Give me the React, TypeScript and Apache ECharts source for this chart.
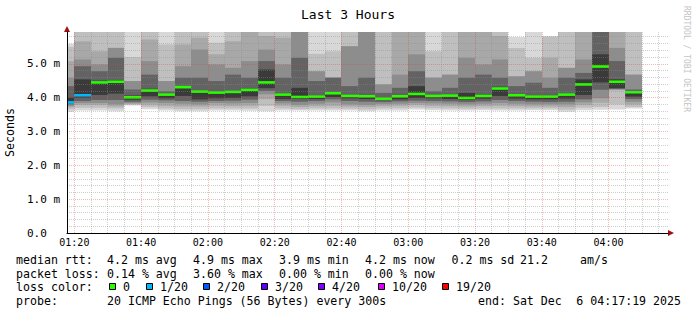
import { useEffect, useRef } from 'react';
import * as echarts from 'echarts';

// ---------- data ----------
const slotStarts = ['01:15','01:20','01:25','01:30','01:35','01:40','01:45','01:50','01:55',
  '02:00','02:05','02:10','02:15','02:20','02:25','02:30','02:35','02:40','02:45','02:50','02:55',
  '03:00','03:05','03:10','03:15','03:20','03:25','03:30','03:35','03:40','03:45','03:50','03:55',
  '04:00','04:05'];
const stepMin = 5;
const viewStartMin = 77.8; // 01:17:48
const viewEndMin = 257.8;  // 04:17:48

const median = [3.86, 4.07, 4.45, 4.47, 4.01, 4.21, 4.09, 4.31, 4.18, 4.15, 4.17, 4.23, 4.45, 4.09, 4.02, 4.03, 4.13, 4.05, 4.04, 3.97, 4.04, 4.11, 4.05, 4.06, 3.99, 4.05, 4.27, 4.07, 4.03, 4.03, 4.09, 4.39, 4.92, 4.47, 4.16];
const lossIdx = [1, 1, 0, 0, 0, 0, 0, 0, 0, 0, 0, 0, 0, 0, 0, 0, 0, 0, 0, 0, 0, 0, 0, 0, 0, 0, 0, 0, 0, 0, 0, 0, 0, 0, 0];

// smoke layers, outermost (1) to innermost (6): upper and lower edges in ms
const hi1 = [5.59, 6.3, 6.3, 6.3, 6.3, 6.3, 6.3, 6.3, 6.3, 6.3, 6.3, 6.3, 6.3, 6.3, 6.3, 6.3, 6.3, 6.3, 6.3, 6.3, 6.3, 6.3, 6.3, 6.3, 6.3, 6.3, 6.3, 5.79, 6.3, 5.82, 6.3, 6.3, 6.3, 6.3, 6.3];
const hi2 = [5.50, 6.1, 6.1, 6.1, 5.20, 6.1, 5.57, 6.1, 6.1, 5.62, 6.1, 6.2, 6.1, 6.1, 6.2, 5.30, 5.37, 6.1, 6.2, 6.1, 6.2, 6.2, 5.37, 6.1, 6.2, 6.2, 6.1, 5.47, 5.18, 5.80, 6.1, 6.2, 6.25, 6.2, 6.1];
const hi3 = [5.08, 5.67, 5.37, 5.47, 4.49, 5.72, 4.49, 5.57, 5.77, 5.28, 5.67, 6.1, 5.82, 5.77, 6.15, 4.78, 4.59, 5.52, 6.15, 4.39, 6.1, 6.1, 4.59, 4.68, 6.1, 6.1, 5.82, 4.63, 4.78, 5.18, 4.88, 6.1, 6.2, 6.1, 4.68];
const hi4 = [4.59, 5.13, 4.98, 5.47, 4.49, 5.08, 4.49, 4.93, 5.42, 4.98, 4.88, 5.08, 5.42, 4.98, 6.1, 4.78, 4.59, 5.52, 6.1, 4.39, 4.68, 5.28, 4.59, 4.68, 5.18, 4.98, 5.13, 4.63, 4.78, 4.59, 4.88, 5.13, 6.15, 5.47, 4.68];
const hi5 = [4.34, 4.93, 4.78, 5.18, 4.24, 4.68, 4.19, 4.59, 4.59, 4.49, 4.68, 4.59, 5.08, 4.59, 5.18, 4.49, 4.59, 4.34, 4.59, 4.14, 4.29, 4.78, 4.19, 4.29, 4.59, 4.68, 4.59, 4.34, 4.44, 4.29, 4.59, 4.73, 6.1, 5.08, 4.24];
const hi6 = [4.00, 4.54, 4.50, 4.52, 4.06, 4.26, 4.12, 4.34, 4.22, 4.18, 4.20, 4.27, 4.83, 4.12, 4.29, 4.06, 4.16, 4.08, 4.07, 4.00, 4.06, 4.34, 4.08, 4.09, 4.14, 4.09, 4.32, 4.10, 4.06, 4.06, 4.12, 4.54, 5.28, 4.54, 4.19];
const lo6 = [3.84, 4.00, 4.08, 4.12, 3.94, 4.04, 3.98, 4.05, 3.95, 3.98, 3.99, 4.04, 4.28, 3.96, 3.96, 3.96, 4.02, 3.98, 3.96, 3.93, 3.95, 3.99, 3.98, 3.96, 3.93, 3.97, 4.05, 3.97, 3.95, 3.95, 3.97, 4.08, 4.45, 4.28, 4.03];
const lo5 = [3.80, 3.90, 3.93, 3.93, 3.88, 3.94, 3.92, 3.90, 3.88, 3.90, 3.91, 3.94, 4.20, 3.90, 3.88, 3.90, 3.95, 3.90, 3.88, 3.87, 3.89, 3.91, 3.90, 3.89, 3.87, 3.89, 3.93, 3.90, 3.88, 3.87, 3.88, 3.95, 4.23, 4.26, 3.96];
const lo4 = [3.76, 3.84, 3.84, 3.80, 3.84, 3.86, 3.84, 3.82, 3.80, 3.84, 3.83, 3.84, 4.10, 3.83, 3.78, 3.82, 3.86, 3.80, 3.78, 3.81, 3.82, 3.84, 3.83, 3.82, 3.80, 3.82, 3.84, 3.82, 3.80, 3.80, 3.80, 3.86, 3.98, 4.24, 3.88];
const lo3 = [3.72, 3.78, 3.78, 3.74, 3.81, 3.79, 3.76, 3.74, 3.74, 3.76, 3.75, 3.76, 3.95, 3.76, 3.72, 3.75, 3.76, 3.74, 3.72, 3.75, 3.76, 3.78, 3.76, 3.75, 3.74, 3.75, 3.76, 3.75, 3.74, 3.74, 3.72, 3.78, 3.85, 4.22, 3.80];
const lo2 = [3.66, 3.70, 3.70, 3.68, 3.79, 3.72, 3.68, 3.66, 3.66, 3.68, 3.68, 3.68, 3.75, 3.68, 3.66, 3.68, 3.68, 3.67, 3.65, 3.68, 3.69, 3.71, 3.69, 3.68, 3.67, 3.68, 3.68, 3.68, 3.68, 3.68, 3.64, 3.70, 3.72, 3.80, 3.72];
const lo1 = [3.58, 3.62, 3.62, 3.60, 3.77, 3.66, 3.62, 3.60, 3.60, 3.62, 3.62, 3.61, 3.60, 3.62, 3.62, 3.62, 3.62, 3.62, 3.60, 3.62, 3.62, 3.65, 3.63, 3.62, 3.62, 3.63, 3.62, 3.62, 3.63, 3.63, 3.58, 3.63, 3.64, 3.65, 3.68];

const smokeColors = ['#d8d8d8', '#bfbfbf', '#a8a8a8', '#8d8d8d', '#636363', '#3a3a3a'];
const lossLevels = ['0', '1/20', '2/20', '3/20', '4/20', '10/20', '19/20'];
const lossColors = ['#26ff00', '#00b8ff', '#0059ff', '#5e00ff', '#7e00ff', '#dd00ff', '#ff0000'];

const titleText = 'Last 3 Hours';
const yAxisName = 'Seconds';
const watermark = 'RRDTOOL / TOBI OETIKER';
const rttRow = ['median rtt:', '4.2 ms avg', '4.9 ms max', '3.9 ms min', '4.2 ms now', '0.2 ms sd', '21.2', 'am/s'];
const lossRow = ['packet loss:', '0.14 % avg', '3.60 % max', '0.00 % min', '0.00 % now'];
const probeRow = ['probe:', '20 ICMP Echo Pings (56 Bytes) every 300s'];
const endRow = ['end: Sat Dec', '6 04:17:19 2025'];

// ---------- helpers ----------
const toMin = (s: string) => {
  const [h, m] = s.split(':').map(Number);
  return h * 60 + m;
};
const fmtTime = (v: number) => {
  const h = Math.floor(v / 60);
  const m = Math.round(v - h * 60);
  return String(h).padStart(2, '0') + ':' + String(m).padStart(2, '0');
};
const MONO = '"DejaVu Sans Mono", monospace';

export default function App() {
  const ref = useRef<HTMLDivElement>(null);
  useEffect(() => {
    if (!ref.current) return;
    const chart = echarts.init(ref.current, undefined, { renderer: 'svg' });
    const hiLayers = [hi1, hi2, hi3, hi4, hi5, hi6];
    const loLayers = [lo1, lo2, lo3, lo4, lo5, lo6];
    // the first slot is only partly inside the 3-hour window
    const data = slotStarts.map((s, i) => [Math.max(toMin(s), viewStartMin), toMin(s) + stepMin, i]);

    const txt = (x: number, y: number, text: string, size = 11.6, extra: any = {}) => ({
      type: 'text', x, y, silent: true,
      style: { text, fontFamily: MONO, fontSize: size, fill: '#000', align: 'left', verticalAlign: 'middle', ...extra },
    });

    const rttX = [16, 107, 193, 279, 365, 451.5, 520, 580];
    const lossX = [16, 107, 193, 279, 365];
    const squareX = [109, 146, 203, 261, 318, 378, 442];
    const graphics: any[] = [];
    graphics.push(txt(348, 14, titleText, 13, { align: 'center' }));
    graphics.push({
      type: 'text', x: 686, y: 59, rotation: -Math.PI / 2, silent: true,
      style: { text: watermark, fontFamily: MONO, fontSize: 8, fill: '#c4c4c4', align: 'center', verticalAlign: 'middle' },
    });
    rttRow.forEach((s, i) => graphics.push(txt(rttX[i], 260, s)));
    lossRow.forEach((s, i) => graphics.push(txt(lossX[i], 273.5, s)));
    graphics.push(txt(16, 287, 'loss color:'));
    lossLevels.forEach((s, i) => {
      graphics.push({
        type: 'rect', silent: true,
        shape: { x: squareX[i] + 0.5, y: 283.5, width: 6, height: 6 },
        style: { fill: lossColors[i], stroke: '#000', lineWidth: 1 },
      });
      graphics.push(txt(squareX[i] + 14, 287, s));
    });
    graphics.push(txt(16, 300.5, probeRow[0]));
    graphics.push(txt(107, 300.5, probeRow[1]));
    graphics.push(txt(478, 300.5, endRow[0]));
    graphics.push(txt(681, 300.5, endRow[1], 11.6, { align: 'right' }));
    // axis arrows
    graphics.push({ type: 'polygon', silent: true, shape: { points: [[64, 32], [70, 32], [67, 26]] }, style: { fill: '#a01010' } });
    graphics.push({ type: 'polygon', silent: true, shape: { points: [[668, 230], [668, 236], [674, 233]] }, style: { fill: '#a01010' } });

    const majorLine = { show: true, lineStyle: { color: 'rgba(220,60,60,0.36)', type: [1, 1], width: 1 } };
    const minorLine = { show: true, lineStyle: { color: 'rgba(140,140,140,0.42)', type: [1, 1], width: 1 } };

    chart.setOption({
      animation: false,
      backgroundColor: '#ffffff',
      grid: { left: 67, top: 32, width: 601, height: 201, containLabel: false, outerBoundsMode: 'none' },
      xAxis: {
        type: 'value', min: viewStartMin, max: viewEndMin, splitNumber: 9, z: 5,
        axisLine: { show: true, lineStyle: { color: '#000', width: 1 } },
        axisTick: { show: false },
        axisLabel: { formatter: (v: number) => fmtTime(v), fontFamily: MONO, fontSize: 10, color: '#000', margin: 4, showMinLabel: false, showMaxLabel: false },
        splitLine: { ...majorLine, showMinLine: false, showMaxLine: false },
        minorTick: { show: false, splitNumber: 4 },
        minorSplitLine: minorLine,
      },
      yAxis: {
        type: 'value', min: 0, max: 5.94, interval: 1, z: 5,
        name: yAxisName, nameLocation: 'middle', nameGap: 50, nameRotate: 90,
        nameTextStyle: { fontFamily: MONO, fontSize: 11.6, color: '#000' },
        axisLine: { show: true, lineStyle: { color: '#000', width: 1 } },
        axisTick: { show: false },
        axisLabel: {
          formatter: (v: number) => (v === 0 ? '0.0' : v.toFixed(1) + ' m'),
          fontFamily: MONO, fontSize: 11, color: '#000', align: 'left', margin: 40, showMaxLabel: false,
        },
        splitLine: { ...majorLine, showMaxLine: false, showMinLine: false },
        minorTick: { show: false, splitNumber: 5 },
        minorSplitLine: minorLine,
      },
      graphic: graphics,
      series: [{
        type: 'custom', z: 1,
        encode: { x: [0, 1] },
        data,
        renderItem: (params: any, api: any) => {
          const t0 = api.value(0);
          const t1 = api.value(1);
          const i = api.value(2);
          const cs = params.coordSys;
          const left = cs.x, right = cs.x + cs.width, top = cs.y, bottom = cs.y + cs.height;
          const x0 = Math.round(Math.max(api.coord([t0, 0])[0], left));
          const x1 = Math.round(Math.min(api.coord([t1, 0])[0], right));
          const children: any[] = [];
          for (let k = 0; k < 6; k++) {
            const yHi = Math.max(api.coord([t0, hiLayers[k][i]])[1], top);
            const yLo = Math.min(api.coord([t0, loLayers[k][i]])[1], bottom);
            children.push({
              type: 'rect',
              shape: { x: x0, y: yHi, width: x1 - x0, height: Math.max(0, yLo - yHi) },
              style: { fill: smokeColors[k] },
            });
          }
          const ym = api.coord([t0, median[i]])[1];
          children.push({
            type: 'rect',
            shape: { x: x0, y: ym - 1.3, width: x1 - x0, height: 2.6 },
            style: { fill: lossColors[lossIdx[i]] },
          });
          return { type: 'group', children };
        },
      }],
    });
    return () => chart.dispose();
  }, []);
  return <div ref={ref} style={{ position: 'fixed', left: 0, top: 0, width: 697, height: 315 }} />;
}
